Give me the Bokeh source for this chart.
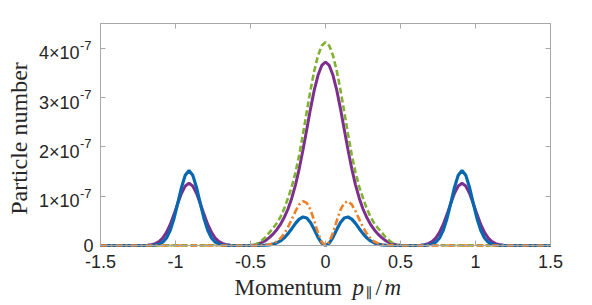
import math
from bokeh.plotting import figure
from bokeh.models import Range1d, LinearAxis, FixedTicker, Label, CustomJSTickFormatter
from bokeh.embed import file_html
from bokeh.resources import INLINE

# ---------------- data (particle number, in units of 1e-7) ----------------
p_center = [-0.5, -0.475, -0.45, -0.425, -0.4, -0.375, -0.35, -0.325, -0.3, -0.275,
            -0.25, -0.225, -0.2, -0.175, -0.15, -0.125, -0.1, -0.075, -0.05, -0.025,
            0.0, 0.025, 0.05, 0.075, 0.1, 0.125, 0.15, 0.175, 0.2, 0.225,
            0.25, 0.275, 0.3, 0.325, 0.35, 0.375, 0.4, 0.425, 0.45, 0.475, 0.5]
p_side_left = [-1.21, -1.185, -1.16, -1.135, -1.11, -1.085, -1.06, -1.035, -1.01, -0.985,
               -0.96, -0.935, -0.91, -0.885, -0.86, -0.835, -0.81, -0.785, -0.76, -0.735,
               -0.71, -0.685, -0.66, -0.635, -0.61]
p_side_right = [0.61, 0.635, 0.66, 0.685, 0.71, 0.735, 0.76, 0.785, 0.81, 0.835,
                0.86, 0.885, 0.91, 0.935, 0.96, 0.985, 1.01, 1.035, 1.06, 1.085,
                1.11, 1.135, 1.16, 1.185, 1.21]
p_edges = [-1.5, 1.5]

green_center = [0.005, 0.015, 0.045, 0.10, 0.17, 0.26, 0.35, 0.45, 0.58, 0.75,
                0.96, 1.19, 1.48, 1.84, 2.26, 2.71, 3.15, 3.54, 3.85, 4.05,
                4.12, 4.05, 3.85, 3.54, 3.15, 2.71, 2.26, 1.84, 1.48, 1.19,
                0.96, 0.75, 0.58, 0.45, 0.35, 0.26, 0.17, 0.10, 0.045, 0.015, 0.005]
purple_center = [0.005, 0.012, 0.03, 0.06, 0.10, 0.16, 0.23, 0.32, 0.43, 0.57,
                 0.74, 0.96, 1.23, 1.56, 1.94, 2.35, 2.77, 3.15, 3.45, 3.65,
                 3.72, 3.65, 3.45, 3.15, 2.77, 2.35, 1.94, 1.56, 1.23, 0.96,
                 0.74, 0.57, 0.43, 0.32, 0.23, 0.16, 0.10, 0.06, 0.03, 0.012, 0.005]
purple_side_left = [0.002, 0.007, 0.017, 0.038, 0.079, 0.151, 0.266, 0.427, 0.631, 0.854,
                    1.060, 1.207, 1.26, 1.207, 1.060, 0.854, 0.631, 0.427, 0.266, 0.151,
                    0.079, 0.038, 0.017, 0.007, 0.002]
purple_side_right = [0.002, 0.007, 0.017, 0.038, 0.079, 0.151, 0.266, 0.427, 0.631, 0.854,
                     1.060, 1.207, 1.26, 1.207, 1.060, 0.854, 0.631, 0.427, 0.266, 0.151,
                     0.079, 0.038, 0.017, 0.007, 0.002]
orange_center = [0, 0.001, 0.002, 0.004, 0.009, 0.020, 0.042, 0.081, 0.145, 0.241,
                 0.372, 0.530, 0.695, 0.831, 0.898, 0.865, 0.723, 0.501, 0.258, 0.071,
                 0, 0.071, 0.258, 0.501, 0.723, 0.865, 0.898, 0.831, 0.695, 0.530,
                 0.372, 0.241, 0.145, 0.081, 0.042, 0.020, 0.009, 0.004, 0.002, 0.001, 0]
blue_center = [0, 0, 0.001, 0.003, 0.006, 0.013, 0.027, 0.052, 0.093, 0.155,
               0.240, 0.341, 0.448, 0.535, 0.578, 0.557, 0.466, 0.323, 0.166, 0.046,
               0, 0.046, 0.166, 0.323, 0.466, 0.557, 0.578, 0.535, 0.448, 0.341,
               0.240, 0.155, 0.093, 0.052, 0.027, 0.013, 0.006, 0.003, 0.001, 0, 0]
blue_side_left = [0, 0.001, 0.003, 0.009, 0.026, 0.067, 0.153, 0.309, 0.548, 0.856,
                  1.178, 1.426, 1.52, 1.426, 1.178, 0.856, 0.548, 0.309, 0.153, 0.067,
                  0.026, 0.009, 0.003, 0.001, 0]
blue_side_right = [0, 0.001, 0.003, 0.009, 0.026, 0.067, 0.153, 0.309, 0.548, 0.856,
                   1.178, 1.426, 1.52, 1.426, 1.178, 0.856, 0.548, 0.309, 0.153, 0.067,
                   0.026, 0.009, 0.003, 0.001, 0]
edge_zero = [0, 0]

x_ticks = [-1.5, -1.0, -0.5, 0.0, 0.5, 1.0, 1.5]
x_tick_labels = ["-1.5", "-1", "-0.5", "0", "0.5", "1", "1.5"]
y_ticks = [0, 1, 2, 3, 4]
y_tick_mantissas = ["0", "1", "2", "3", "4"]
y_tick_exponent = "-7"
x_lim = (-1.5, 1.5)
y_lim = (0, 4.5)

# ---------------- geometry (page pixels of the plot box) ----------------
W, H = 592, 305
BOX_L, BOX_R, BOX_T, BOX_B = 100, 550, 23, 245
sx = (BOX_R - BOX_L) / (x_lim[1] - x_lim[0])
sy = (BOX_B - BOX_T) / (y_lim[1] - y_lim[0])

def X(px):
    return x_lim[0] + (px - BOX_L) / sx

def Y(py):
    return y_lim[0] + (BOX_B - py) / sy

p = figure(width=W, height=H, output_backend="svg", toolbar_location=None,
           x_range=Range1d(X(0), X(W)), y_range=Range1d(Y(H), Y(0)),
           min_border=0, min_border_left=0, min_border_right=0,
           min_border_top=0, min_border_bottom=0,
           background_fill_color="white", border_fill_color="white")
p.outline_line_color = None
p.grid.visible = False

AX = "#A8A8A8"
TXT = "#262626"

xfmt = CustomJSTickFormatter(args=dict(xt=x_ticks, xl=x_tick_labels),
                             code="const i = xt.findIndex(t => Math.abs(t - tick) < 1e-9); return i >= 0 ? xl[i] : '';")
empty = CustomJSTickFormatter(code="return '';")

def style(ax, loc, bounds):
    ax.fixed_location = loc
    ax.bounds = bounds
    ax.axis_line_color = AX
    ax.major_tick_line_color = AX
    ax.major_tick_in = 5
    ax.major_tick_out = 0
    ax.minor_tick_line_color = None

xa = p.xaxis[0]
xa.ticker = FixedTicker(ticks=x_ticks)
xa.formatter = xfmt
style(xa, y_lim[0], x_lim)
xa.major_label_text_font = "Liberation Sans"
xa.major_label_text_font_size = "18px"
xa.major_label_text_color = TXT
xa.major_label_standoff = 9

ya = p.yaxis[0]
ya.ticker = FixedTicker(ticks=y_ticks)
ya.formatter = empty
style(ya, x_lim[0], y_lim)

top = LinearAxis(ticker=FixedTicker(ticks=x_ticks), formatter=empty)
style(top, y_lim[1], x_lim)
p.add_layout(top, "above")
right = LinearAxis(ticker=FixedTicker(ticks=y_ticks), formatter=empty)
style(right, x_lim[1], y_lim)
p.add_layout(right, "right")

# ---------------- curves ----------------
xs_full = p_edges[:1] + p_side_left + p_center + p_side_right + p_edges[1:]
purple_full = edge_zero[:1] + purple_side_left + purple_center + purple_side_right + edge_zero[1:]
blue_full = edge_zero[:1] + blue_side_left + blue_center + blue_side_right + edge_zero[1:]
xs_c = p_edges[:1] + p_center + p_edges[1:]
green_full = edge_zero[:1] + green_center + edge_zero[1:]
orange_full = edge_zero[:1] + orange_center + edge_zero[1:]

p.line(xs_full, purple_full, line_color="#7E2F8E", line_width=3)
p.line(xs_c, green_full, line_color="#7FB230", line_width=2.6, line_dash="6 3")
p.line(xs_full, blue_full, line_color="#0868AF", line_width=3.2)
p.line(xs_c, orange_full, line_color="#F07F26", line_width=2.6, line_dash="7 3 2 3")

# ---------------- texts ----------------
for v, m in zip(y_ticks, y_tick_mantissas):
    if v == 0:
        p.add_layout(Label(x=X(93), y=v, text=m, text_align="right", text_baseline="middle",
                           text_font="Liberation Sans", text_font_size="18px", text_color=TXT))
    else:
        p.add_layout(Label(x=X(79), y=v - 5 / sy, text=m + "\u00d710", text_align="right",
                           text_baseline="middle", text_font="Liberation Sans",
                           text_font_size="18px", text_color=TXT))
        p.add_layout(Label(x=X(79.5), y=v + 3 / sy, text=y_tick_exponent, text_align="left",
                           text_baseline="middle", text_font="Liberation Sans",
                           text_font_size="13px", text_color=TXT))

p.add_layout(Label(x=X(18), y=Y(138), text="Particle number", angle=math.pi / 2,
                   text_align="center", text_baseline="middle",
                   text_font="Liberation Serif", text_font_size="24px", text_color=TXT))

mid = Y(287)
p.add_layout(Label(x=X(234), y=mid, text="Momentum", text_align="left",
                   text_baseline="middle", text_font="Liberation Serif",
                   text_font_size="23px", text_color=TXT))
p.add_layout(Label(x=X(352), y=mid, text="p", text_align="left",
                   text_baseline="middle", text_font="Liberation Serif",
                   text_font_style="italic", text_font_size="23px", text_color=TXT))
p.add_layout(Label(x=X(365), y=Y(292), text="\u2225", text_align="left",
                   text_baseline="middle", text_font="DejaVu Serif",
                   text_font_size="14px", text_color=TXT))
p.add_layout(Label(x=X(375), y=mid, text="/", text_align="left",
                   text_baseline="middle", text_font="Liberation Serif",
                   text_font_size="23px", text_color=TXT))
p.add_layout(Label(x=X(384), y=mid, text="m", text_align="left",
                   text_baseline="middle", text_font="Liberation Serif",
                   text_font_style="italic", text_font_size="23px", text_color=TXT))

open("out.html", "w").write(file_html(p, INLINE))
